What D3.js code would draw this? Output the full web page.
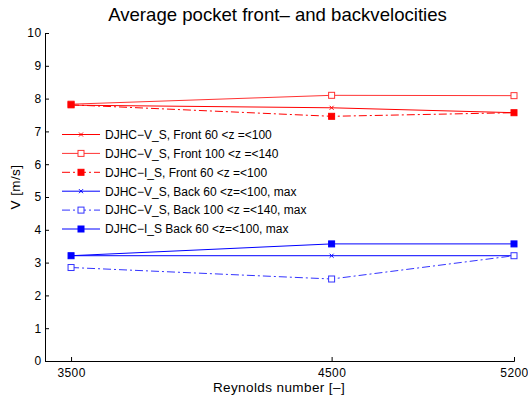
<!DOCTYPE html>
<html>
<head>
<meta charset="utf-8">
<script src="https://cdn.jsdelivr.net/npm/d3@7"></script>
<style>
  body { margin: 0; background: #fff; }
  svg { font-family: "Liberation Sans", Arial, Helvetica, sans-serif; }
</style>
</head>
<body>
<div class="chart"></div>
<script>
let reynolds = [3500, 4500, 5200];
let xTicks = [3500, 4500, 5200];
let yTicks = [0, 1, 2, 3, 4, 5, 6, 7, 8, 9, 10];

let frontVS60 = [7.80, 7.72, 7.57];
let frontVS100 = [7.83, 8.10, 8.09];
let frontIS60 = [7.81, 7.46, 7.57];
let backVS60 = [3.21, 3.21, 3.21];
let backVS100 = [2.85, 2.50, 3.21];
let backIS60 = [3.21, 3.57, 3.57];

let seriesNames = [
  'DJHC\u2212V_S, Front 60 <z =<100',
  'DJHC\u2212V_S, Front 100 <z =<140',
  'DJHC\u2212I_S, Front 60 <z =<100',
  'DJHC\u2212V_S, Back 60 <z=<100, max',
  'DJHC\u2212V_S, Back 100 <z =<140, max',
  'DJHC\u2212I_S Back 60 <z=<100, max'
];

let dashDot = '8,3,2,3';
let series = [
  {name: seriesNames[0], values: frontVS60, color: '#ff0000', dash: null, marker: 'x'},
  {name: seriesNames[1], values: frontVS100, color: '#ff3333', dash: null, marker: 'open'},
  {name: seriesNames[2], values: frontIS60, color: '#ff0000', dash: dashDot, marker: 'filled'},
  {name: seriesNames[3], values: backVS60, color: '#0000ff', dash: null, marker: 'x'},
  {name: seriesNames[4], values: backVS100, color: '#3333ff', dash: dashDot, marker: 'open'},
  {name: seriesNames[5], values: backIS60, color: '#0000ff', dash: null, marker: 'filled'}
];

let W = 528, H = 401;
let x0 = 45, x1 = 514, y0 = 361, y1 = 33;

let svg = d3.select('.chart')
  .append('svg')
    .attr('width', W)
    .attr('height', H);

let xScale = d3.scaleLinear()
  .domain([3400, 5200])
  .range([x0, x1]);

let yScale = d3.scaleLinear()
  .domain([0, 10])
  .range([y0, y1]);

let xAxis = d3.axisBottom(xScale)
  .tickValues(xTicks)
  .tickFormat(d3.format('d'))
  .tickSizeInner(-4)
  .tickSizeOuter(-4)
  .tickPadding(7.5);

let yAxis = d3.axisLeft(yScale)
  .tickValues(yTicks)
  .tickSizeInner(-4)
  .tickSizeOuter(0)
  .tickPadding(3.5);

let gx = svg.append('g')
  .attr('transform', `translate(0, ${y0})`)
  .call(xAxis);

let gy = svg.append('g')
  .attr('transform', `translate(${x0}, 0)`)
  .call(yAxis);

[gx, gy].forEach(g => {
  g.selectAll('text')
    .style('font-size', '12px')
    .style('letter-spacing', '0.4px')
    .attr('fill', '#000');
  g.selectAll('line').attr('stroke', '#000');
  g.select('.domain').attr('stroke', '#000');
});

let line = d3.line()
  .x((d, i) => xScale(reynolds[i]))
  .y(d => yScale(d));

function drawMarker(g, type, cx, cy, color) {
  if (type === 'x') {
    let s = 2;
    g.append('path')
      .attr('d', `M${cx - s},${cy - s}L${cx + s},${cy + s}M${cx - s},${cy + s}L${cx + s},${cy - s}`)
      .attr('stroke', color)
      .attr('stroke-width', 1);
  } else {
    let s = 3;
    g.append('rect')
      .attr('x', cx - s)
      .attr('y', cy - s)
      .attr('width', 2 * s)
      .attr('height', 2 * s)
      .attr('fill', type === 'filled' ? color : '#fff')
      .attr('stroke', color)
      .attr('stroke-width', 1);
  }
}

let plot = svg.append('g');

series.forEach(s => {
  plot.append('path')
    .datum(s.values)
    .attr('d', line)
    .attr('fill', 'none')
    .attr('stroke', s.color)
    .attr('stroke-width', 1)
    .attr('stroke-dasharray', s.dash);
  s.values.forEach((v, i) => {
    drawMarker(plot, s.marker, xScale(reynolds[i]), yScale(v), s.color);
  });
});

// legend
let legend = svg.append('g');
series.forEach((s, i) => {
  let ly = 134.5 + i * 18.9;
  legend.append('line')
    .attr('x1', 62).attr('x2', 100)
    .attr('y1', ly).attr('y2', ly)
    .attr('stroke', s.color)
    .attr('stroke-width', 1)
    .attr('stroke-dasharray', s.dash);
  drawMarker(legend, s.marker, 81, ly, s.color);
  legend.append('text')
    .attr('x', 105)
    .attr('y', ly + 4.3)
    .style('font-size', '12px')
    .text(s.name);
});

svg.append('text')
  .attr('x', 277.5)
  .attr('y', 20.5)
  .attr('text-anchor', 'middle')
  .style('font-size', '18.6px')
  .text('Average pocket front\u2013 and backvelocities');

svg.append('text')
  .attr('x', 279)
  .attr('y', 392)
  .attr('text-anchor', 'middle')
  .style('font-size', '13.5px')
  .style('letter-spacing', '0.4px')
  .text('Reynolds number [\u2013]');

svg.append('text')
  .attr('transform', 'translate(19.5, 187) rotate(-90)')
  .attr('text-anchor', 'middle')
  .style('font-size', '13.5px')
  .style('letter-spacing', '0.4px')
  .text('V [m/s]');
</script>
</body>
</html>
